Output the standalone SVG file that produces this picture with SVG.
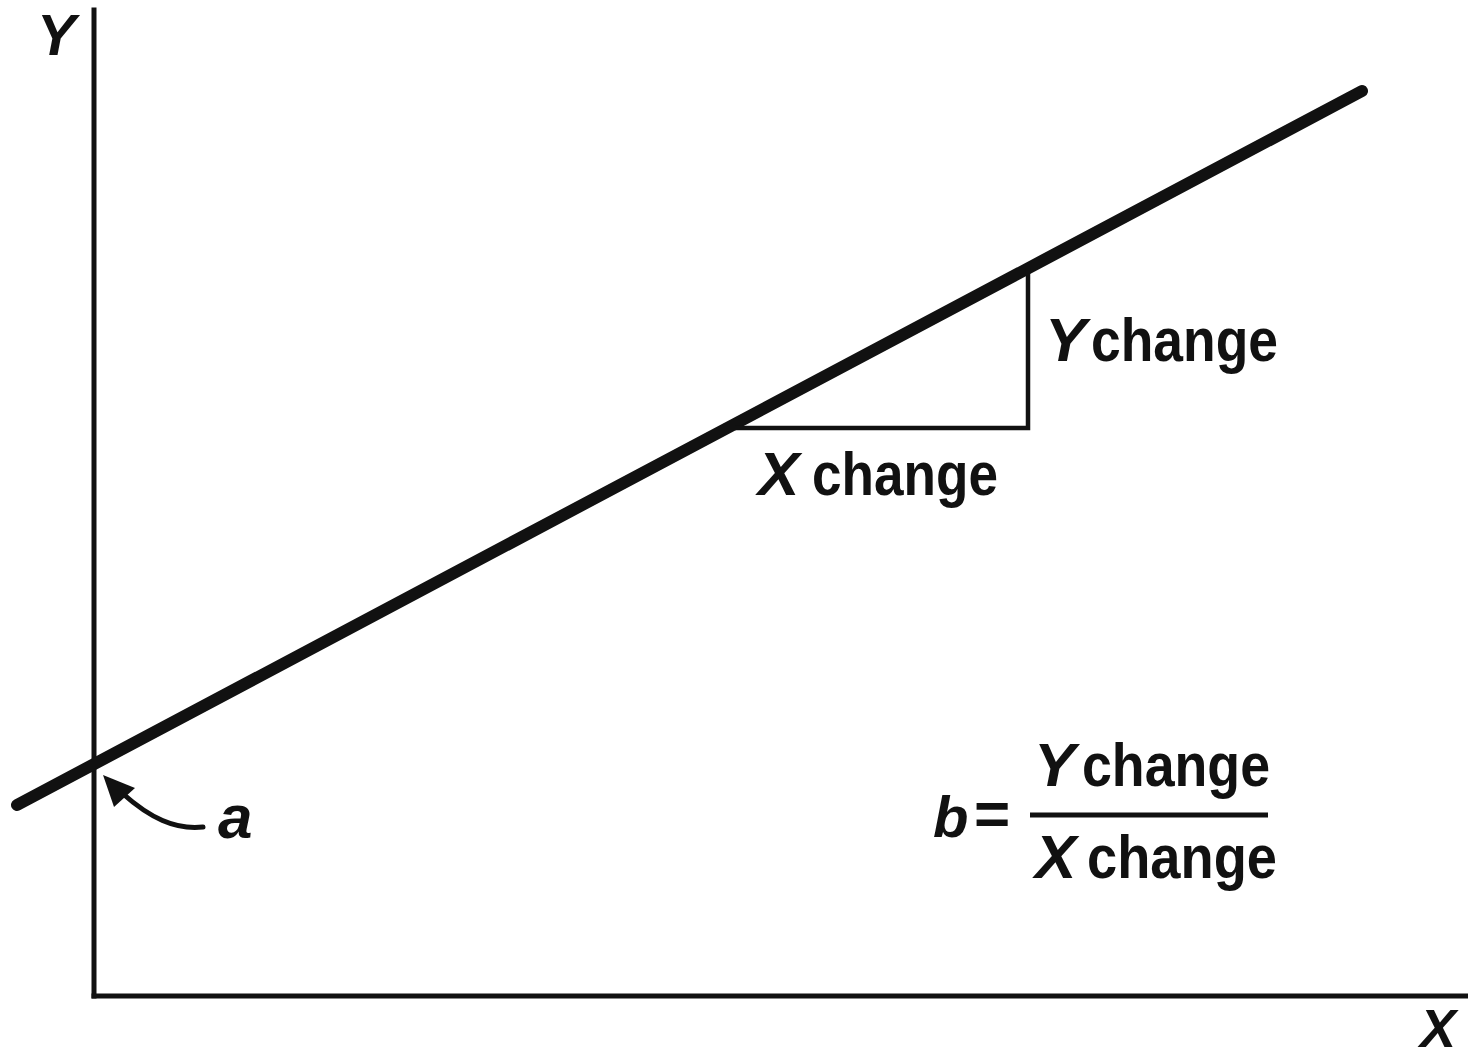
<svg xmlns="http://www.w3.org/2000/svg" width="1468" height="1059" viewBox="0 0 1468 1059">
<style>
.t{font-family:"Liberation Sans",Arial,sans-serif;font-weight:bold;fill:#111;font-size:62px;}
.i{font-style:italic;}
.ax{stroke:#111;stroke-width:5;fill:none;stroke-linecap:square;}
</style>
<rect width="1468" height="1059" fill="#fff"/>
<g id="connectors">
<line id="y-axis" class="ax" x1="94" y1="10" x2="94" y2="996"/>
<line id="x-axis" class="ax" x1="94" y1="996" x2="1466" y2="996"/>
<line id="regression" x1="17" y1="805" x2="1362" y2="91" stroke="#111" stroke-width="12" stroke-linecap="round"/>
<polyline id="slope-triangle" points="735,428 1028,428 1028,268" fill="none" stroke="#111" stroke-width="4.5"/>
<path id="a-arrow" d="M203,827 C175,830 150,818 122,793" fill="none" stroke="#111" stroke-width="5" stroke-linecap="round"/>
<polygon points="103,775 135,788 114,807" fill="#111"/>
</g>
<g id="label-Y"><text class="t i" x="37" y="55" style="font-size:58px">Y</text></g>
<g id="label-X"><text class="t i" x="1420" y="1047" style="font-size:54px">X</text></g>
<g id="label-a"><text class="t i" x="218" y="838">a</text></g>
<g id="label-ychange">
<text class="t i" x="1045" y="361">Y</text>
<text class="t" x="1091" y="361" textLength="187" lengthAdjust="spacingAndGlyphs">change</text>
</g>
<g id="label-xchange">
<text class="t i" x="758" y="495">X</text>
<text class="t" x="812" y="495" textLength="186" lengthAdjust="spacingAndGlyphs">change</text>
</g>
<g id="formula">
<text class="t i" x="933" y="837" style="font-size:58px">b</text>
<text class="t" x="974" y="835">=</text>
<text class="t i" x="1034" y="786">Y</text>
<text class="t" x="1082" y="786" textLength="188" lengthAdjust="spacingAndGlyphs">change</text>
<line x1="1030" y1="815" x2="1268" y2="815" stroke="#111" stroke-width="5"/>
<text class="t i" x="1035" y="878">X</text>
<text class="t" x="1087" y="878" textLength="190" lengthAdjust="spacingAndGlyphs">change</text>
</g>
</svg>
